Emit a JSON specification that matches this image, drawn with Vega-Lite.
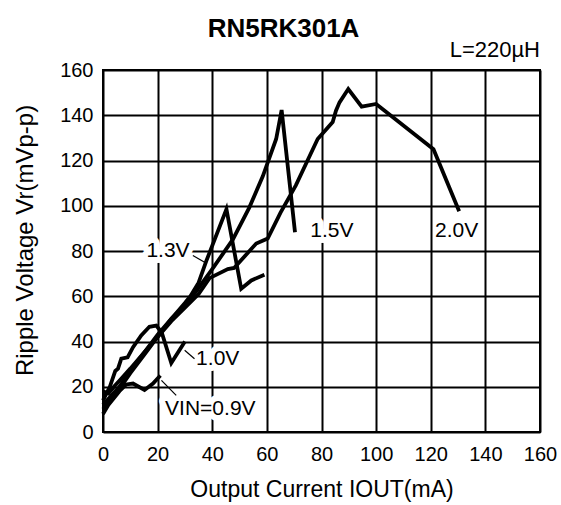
{
  "$schema": "https://vega.github.io/schema/vega-lite/v6.json",
  "autosize": {"type": "none"},
  "width": 437,
  "height": 362,
  "padding": {"left": 103, "top": 70, "right": 21, "bottom": 73},
  "background": "white",
  "config": {
    "view": {"stroke": "black", "strokeWidth": 2},
    "font": "Liberation Sans"
  },
  "title": {
    "text": "RN5RK301A",
    "font": "Liberation Sans",
    "fontSize": 26,
    "fontWeight": "bold",
    "color": "black",
    "anchor": "middle",
    "frame": "group",
    "dx": -38,
    "offset": -3
  },
  "datasets": {
    "curves": [
      {"s": "0.9V", "i": 1, "x": 0, "y": 8},
      {"s": "0.9V", "i": 2, "x": 2, "y": 12},
      {"s": "0.9V", "i": 3, "x": 4, "y": 15},
      {"s": "0.9V", "i": 4, "x": 6, "y": 18},
      {"s": "0.9V", "i": 5, "x": 8.5, "y": 21},
      {"s": "0.9V", "i": 6, "x": 11, "y": 21.4},
      {"s": "0.9V", "i": 7, "x": 15.2, "y": 18.6},
      {"s": "0.9V", "i": 8, "x": 18.3, "y": 21.4},
      {"s": "0.9V", "i": 9, "x": 21, "y": 25},

      {"s": "1.0V", "i": 1, "x": 0, "y": 14},
      {"s": "1.0V", "i": 2, "x": 2.5, "y": 20},
      {"s": "1.0V", "i": 3, "x": 4.5, "y": 27},
      {"s": "1.0V", "i": 4, "x": 5.5, "y": 28},
      {"s": "1.0V", "i": 5, "x": 6.7, "y": 32.4},
      {"s": "1.0V", "i": 6, "x": 9, "y": 33},
      {"s": "1.0V", "i": 7, "x": 11, "y": 37.5},
      {"s": "1.0V", "i": 8, "x": 14, "y": 42.7},
      {"s": "1.0V", "i": 9, "x": 17, "y": 46.5},
      {"s": "1.0V", "i": 10, "x": 19.5, "y": 47},
      {"s": "1.0V", "i": 11, "x": 21.5, "y": 44},
      {"s": "1.0V", "i": 12, "x": 25, "y": 30.5},
      {"s": "1.0V", "i": 13, "x": 30, "y": 40},

      {"s": "1.3V", "i": 1, "x": 0, "y": 10},
      {"s": "1.3V", "i": 2, "x": 3, "y": 14},
      {"s": "1.3V", "i": 3, "x": 6, "y": 19},
      {"s": "1.3V", "i": 4, "x": 10, "y": 26},
      {"s": "1.3V", "i": 5, "x": 15, "y": 34},
      {"s": "1.3V", "i": 6, "x": 20, "y": 42},
      {"s": "1.3V", "i": 7, "x": 25, "y": 50},
      {"s": "1.3V", "i": 8, "x": 30, "y": 57},
      {"s": "1.3V", "i": 9, "x": 32, "y": 60},
      {"s": "1.3V", "i": 10, "x": 35, "y": 66},
      {"s": "1.3V", "i": 11, "x": 37.8, "y": 75.5},
      {"s": "1.3V", "i": 12, "x": 45.2, "y": 98.5},
      {"s": "1.3V", "i": 13, "x": 50.6, "y": 63.3},
      {"s": "1.3V", "i": 14, "x": 54.3, "y": 67},
      {"s": "1.3V", "i": 15, "x": 59.1, "y": 69.5},

      {"s": "1.5V", "i": 1, "x": 0, "y": 12},
      {"s": "1.5V", "i": 2, "x": 3, "y": 16},
      {"s": "1.5V", "i": 3, "x": 6, "y": 20},
      {"s": "1.5V", "i": 4, "x": 10, "y": 27},
      {"s": "1.5V", "i": 5, "x": 15, "y": 35},
      {"s": "1.5V", "i": 6, "x": 20, "y": 43},
      {"s": "1.5V", "i": 7, "x": 25, "y": 50},
      {"s": "1.5V", "i": 8, "x": 30, "y": 56},
      {"s": "1.5V", "i": 9, "x": 34, "y": 62},
      {"s": "1.5V", "i": 10, "x": 40, "y": 72},
      {"s": "1.5V", "i": 11, "x": 47.5, "y": 85},
      {"s": "1.5V", "i": 12, "x": 53.6, "y": 99.3},
      {"s": "1.5V", "i": 13, "x": 58.5, "y": 113},
      {"s": "1.5V", "i": 14, "x": 63.4, "y": 129.5},
      {"s": "1.5V", "i": 15, "x": 65.4, "y": 142.3},
      {"s": "1.5V", "i": 16, "x": 70.3, "y": 88.3},

      {"s": "2.0V", "i": 1, "x": 0, "y": 18},
      {"s": "2.0V", "i": 2, "x": 2, "y": 17},
      {"s": "2.0V", "i": 3, "x": 4, "y": 20},
      {"s": "2.0V", "i": 4, "x": 7, "y": 24},
      {"s": "2.0V", "i": 5, "x": 10, "y": 28},
      {"s": "2.0V", "i": 6, "x": 15, "y": 35},
      {"s": "2.0V", "i": 7, "x": 20, "y": 42},
      {"s": "2.0V", "i": 8, "x": 25, "y": 49},
      {"s": "2.0V", "i": 9, "x": 30, "y": 55},
      {"s": "2.0V", "i": 10, "x": 35, "y": 61},
      {"s": "2.0V", "i": 11, "x": 39, "y": 68},
      {"s": "2.0V", "i": 12, "x": 45.7, "y": 72},
      {"s": "2.0V", "i": 13, "x": 48, "y": 72.5},
      {"s": "2.0V", "i": 14, "x": 56.1, "y": 83.3},
      {"s": "2.0V", "i": 15, "x": 60.3, "y": 85.5},
      {"s": "2.0V", "i": 16, "x": 65, "y": 97},
      {"s": "2.0V", "i": 17, "x": 70.6, "y": 109},
      {"s": "2.0V", "i": 18, "x": 78.6, "y": 129.5},
      {"s": "2.0V", "i": 19, "x": 84.1, "y": 137},
      {"s": "2.0V", "i": 20, "x": 85.3, "y": 142},
      {"s": "2.0V", "i": 21, "x": 86.6, "y": 145.7},
      {"s": "2.0V", "i": 22, "x": 89.8, "y": 151.6},
      {"s": "2.0V", "i": 23, "x": 94.7, "y": 143.8},
      {"s": "2.0V", "i": 24, "x": 100, "y": 145},
      {"s": "2.0V", "i": 25, "x": 121, "y": 125},
      {"s": "2.0V", "i": 26, "x": 130.4, "y": 97.6}
    ],
    "labels": [
      {"label": "1.3V", "x": 23.8, "y": 80.2},
      {"label": "1.0V", "x": 42, "y": 32.1},
      {"label": "VIN=0.9V", "x": 39.3, "y": 10.3},
      {"label": "1.5V", "x": 83.8, "y": 89},
      {"label": "2.0V", "x": 129.5, "y": 89}
    ],
    "leaders": [
      {"x": 32.9, "y": 78, "x2": 37.2, "y2": 75},
      {"x": 29.9, "y": 36.1, "x2": 33.5, "y2": 32.4},
      {"x": 21.4, "y": 22.8, "x2": 26.8, "y2": 16.2}
    ]
  },
  "layer": [
    {
      "data": {"name": "labels"},
      "transform": [{"filter": "datum.label != '2.0V'"}],
      "mark": {"type": "text", "font": "Liberation Sans", "fontSize": 21, "stroke": "white", "strokeWidth": 12, "strokeJoin": "round", "fill": "white", "align": "center", "baseline": "middle"},
      "encoding": {
        "x": {
          "field": "x",
          "type": "quantitative",
          "scale": {"domain": [0, 160], "nice": false},
          "axis": {
            "values": [0, 20, 40, 60, 80, 100, 120, 140, 160],
            "zindex": 0,
            "grid": true,
            "gridColor": "black",
            "gridWidth": 2,
            "gridOpacity": 1,
            "domain": false,
            "ticks": false,
            "labelFlush": false,
            "labelFont": "Liberation Sans",
            "labelFontSize": 20,
            "labelColor": "black",
            "labelPadding": 12,
            "title": "Output Current IOUT(mA)",
            "titleFont": "Liberation Sans",
            "titleFontSize": 23,
            "titleFontWeight": "normal",
            "titleColor": "black",
            "titlePadding": 14
          }
        },
        "y": {
          "field": "y",
          "type": "quantitative",
          "scale": {"domain": [0, 160], "nice": false},
          "axis": {
            "values": [0, 20, 40, 60, 80, 100, 120, 140, 160],
            "zindex": 0,
            "grid": true,
            "gridColor": "black",
            "gridWidth": 2,
            "gridOpacity": 1,
            "domain": false,
            "ticks": false,
            "labelFlush": false,
            "labelFont": "Liberation Sans",
            "labelFontSize": 20,
            "labelColor": "black",
            "labelPadding": 10,
            "title": "Ripple Voltage Vr(mVp-p)",
            "titleFont": "Liberation Sans",
            "titleFontSize": 24,
            "titleFontWeight": "normal",
            "titleColor": "black",
            "titlePadding": 22,
            "titleY": 170
          }
        },
        "text": {"field": "label"}
      }
    },
    {
      "data": {"name": "curves"},
      "mark": {"type": "line", "color": "black", "strokeWidth": 3.8},
      "encoding": {
        "x": {"field": "x", "type": "quantitative"},
        "y": {"field": "y", "type": "quantitative"},
        "detail": {"field": "s"},
        "order": {"field": "i", "type": "quantitative"}
      }
    },
    {
      "data": {"name": "leaders"},
      "mark": {"type": "rule", "color": "black", "strokeWidth": 1.2},
      "encoding": {
        "x": {"field": "x", "type": "quantitative"},
        "y": {"field": "y", "type": "quantitative"},
        "x2": {"field": "x2"},
        "y2": {"field": "y2"}
      }
    },
    {
      "data": {"name": "labels"},
      "mark": {"type": "text", "font": "Liberation Sans", "fontSize": 21, "color": "black", "align": "center", "baseline": "middle"},
      "encoding": {
        "x": {"field": "x", "type": "quantitative"},
        "y": {"field": "y", "type": "quantitative"},
        "text": {"field": "label"}
      }
    },
    {
      "data": {"values": [{"note": "L=220µH", "x": 160, "y": 160}]},
      "mark": {"type": "text", "font": "Liberation Sans", "fontSize": 22, "color": "black", "align": "right", "baseline": "alphabetic", "dy": -13},
      "encoding": {
        "x": {"field": "x", "type": "quantitative"},
        "y": {"field": "y", "type": "quantitative"},
        "text": {"field": "note"}
      }
    }
  ]
}
